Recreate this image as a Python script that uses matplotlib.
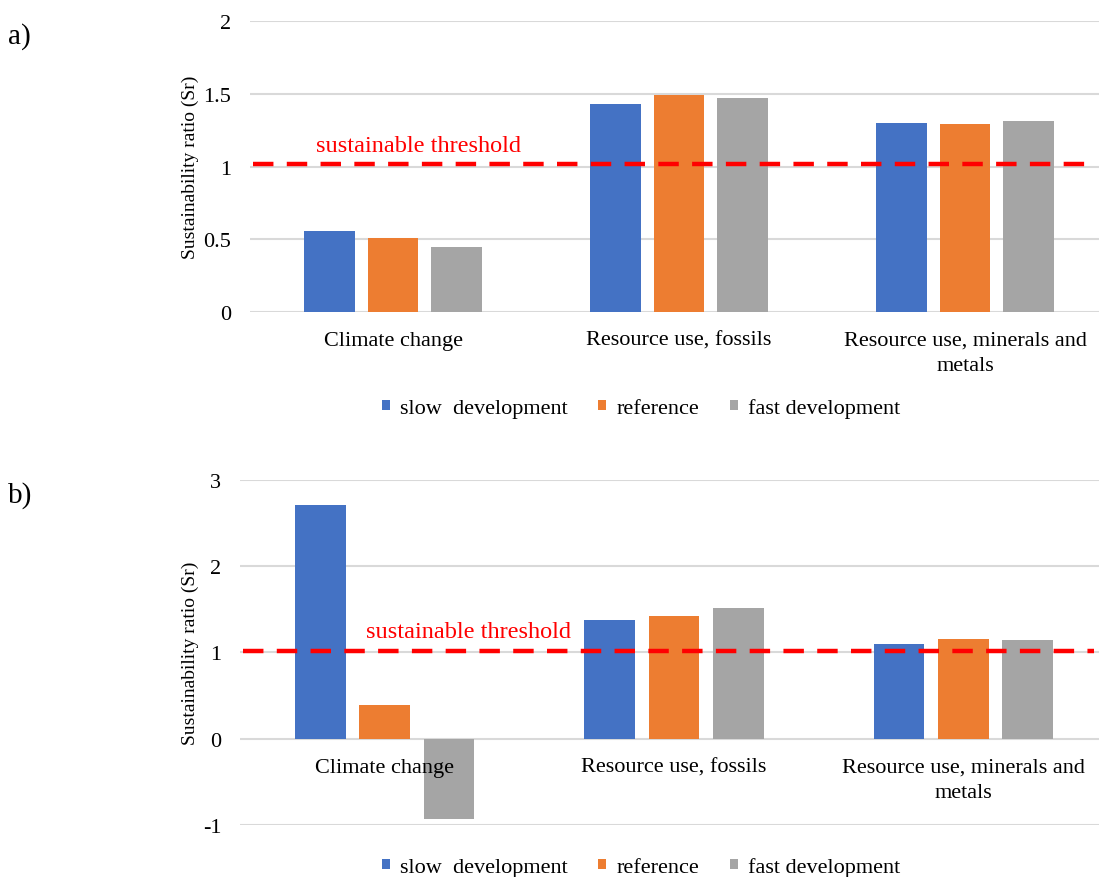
import numpy as np
import matplotlib
matplotlib.use('Agg')
import matplotlib.pyplot as plt
from matplotlib.ticker import FormatStrFormatter
from matplotlib.patches import Patch

plt.rcParams['font.family'] = ['Liberation Serif', 'DejaVu Serif']

# data
categories = ['Climate change', 'Resource use, fossils', 'Resource use, minerals and\nmetals']
series = ['slow  development', 'reference', 'fast development']
colors = ['#4472C4', '#ED7D31', '#A5A5A5']

values_a = {
    'slow  development': [0.56, 1.43, 1.30],
    'reference': [0.51, 1.49, 1.29],
    'fast development': [0.45, 1.47, 1.31],
}
values_b = {
    'slow  development': [2.71, 1.37, 1.10],
    'reference': [0.39, 1.42, 1.16],
    'fast development': [-0.93, 1.52, 1.14],
}
threshold = 1.02
yticks_a = [0, 0.5, 1, 1.5, 2]
yticks_b = [-1, 0, 1, 2, 3]

W, H = 1099, 878
fig = plt.figure(figsize=(W / 100, H / 100), dpi=100)


def px_axes(left, right, top, bottom):
    # pixel box -> figure fraction rect
    return [left / W, 1 - bottom / H, (right - left) / W, (bottom - top) / H]


def panel(rect, values, yticks, thr_text_x, legend_y, tag, tag_y):
    ax = fig.add_axes(rect)
    x = np.arange(len(categories))
    offs = [-0.222, 0, 0.222]
    for s, c, o in zip(series, colors, offs):
        ax.bar(x + o, values[s], width=0.175, color=c, zorder=2)
    ax.set_xlim(-0.5, 2.5)
    ax.set_ylim(yticks[0], yticks[-1])
    ax.set_yticks(yticks)
    ax.yaxis.set_major_formatter(FormatStrFormatter('%g'))
    ax.tick_params(axis='y', length=0, labelsize=16, pad=13.5)
    ax.set_xticks([])
    for sp in ax.spines.values():
        sp.set_visible(False)
    ax.grid(axis='y', color='#D9D9D9', linewidth=1.5, zorder=0)
    ax.set_axisbelow(True)
    ax.set_ylabel('Sustainability ratio (Sr)', fontsize=14)
    yc = rect[1] + rect[3] / 2
    ax.yaxis.set_label_coords(199 / W, yc, transform=fig.transFigure)

    # threshold line + label
    ln, = ax.plot([-0.49, 2.45], [threshold, threshold], color='#FF0000',
                  linewidth=3.2, zorder=3)
    ln.set_dashes((4.6, 3.0))
    ax.text(thr_text_x, threshold + 0.025 * (yticks[-1] - yticks[0]),
            'sustainable threshold', color='#FF0000', fontsize=17.5,
            ha='left', va='bottom', zorder=4)

    # category labels just below the zero line
    for i, cat in enumerate(categories):
        ax.annotate(cat, xy=(i, 0), xycoords='data', xytext=(0, -19),
                    textcoords='offset pixels', ha='center', va='top',
                    fontsize=16, linespacing=1.45, zorder=5, annotation_clip=False)

    handles = [Patch(facecolor=c, edgecolor='none') for c in colors]
    ax.legend(handles, series, loc='center', ncol=3, frameon=False,
              bbox_to_anchor=(641 / W, 1 - legend_y / H),
              bbox_transform=fig.transFigure, fontsize=16,
              handlelength=0.35, handleheight=0.35, handletextpad=0.45,
              columnspacing=1.4)
    fig.text(8 / W, 1 - tag_y / H, tag, fontsize=21, ha='left', va='center')
    return ax


panel(px_axes(250, 1108, 22, 313), values_a, yticks_a, -0.27, 409, 'a)', 37)
panel(px_axes(240, 1108, 481, 825.7), values_b, yticks_b, -0.065, 868, 'b)', 496)

fig.savefig('out.png', dpi=100)
